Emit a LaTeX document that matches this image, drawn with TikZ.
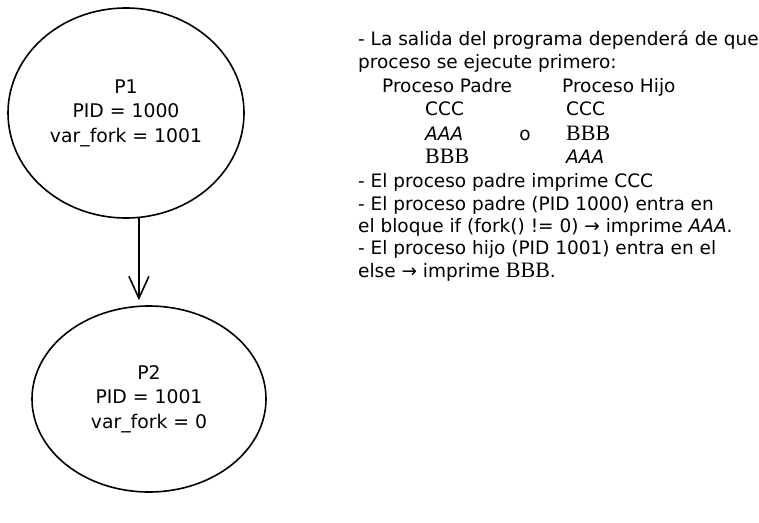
\documentclass[tikz,border=0pt]{standalone}
\usepackage{fontspec}
\setmainfont{DejaVu Sans}
\newfontfamily\serifB{Liberation Serif}
\newcommand{\bbb}{{\serifB\fontsize{22}{23}\selectfont BBB}}
\usetikzlibrary{shapes.geometric,arrows.meta,calc}
\tikzset{
  proc/.style={ellipse, draw=black, line width=1.6pt, align=center,
    font=\fontsize{18.8}{24.5}\selectfont},
  txt/.style={anchor=base west, inner sep=0pt, font=\fontsize{18.5}{23}\selectfont},
  txtc/.style={anchor=base, inner sep=0pt, font=\fontsize{18.5}{23}\selectfont},
  conn/.style={line width=1.6pt, -{Straight Barb[length=22pt,width=20pt,line width=1.6pt]}}
}
\begin{document}
\begin{tikzpicture}[x=1pt,y=-1pt]
\useasboundingbox (0,0) rectangle (759,522);
\node[proc, minimum width=236pt, minimum height=210pt] (P1) at (126,113) {P1\\PID = 1000\\var\_fork = 1001};
\node[proc, minimum width=234pt, minimum height=186pt] (P2) at (149,399) {P2\\PID = 1001\\var\_fork = 0};
\draw[conn, shorten >=5pt] (P1.-83) -- (P1.-83 |- P2.north);
\node[txt] (l1) at (358,45) {- La salida del programa dependerá de que};
\node[txt] (l2) at (358,68) {proceso se ejecute primero:};
\node[txt] (l3a) at (382,92) {Proceso Padre};
\node[txt] (l3b) at (562,92) {Proceso Hijo};
\node[txt] (l4a) at (425,115) {CCC};
\node[txt] (l4b) at (566,115) {CCC};
\node[txt] (l5a) at (425,140) {\itshape AAA};
\node[txtc] (l5o) at (525,140) {o};
\node[txt] (l5b) at (566,140) {\bbb};
\node[txt] (l6a) at (425,163) {\bbb};
\node[txt] (l6b) at (566,163) {\itshape AAA};
\node[txt] (l7) at (358,187) {- El proceso padre imprime CCC};
\node[txt] (l8) at (358,210) {- El proceso padre (PID 1000) entra en};
\node[txt] (l9) at (358,232) {el bloque if (fork() != 0) → imprime \itshape AAA\upshape.};
\node[txt] (l10) at (358,254) {- El proceso hijo (PID 1001) entra en el};
\node[txt] (l11) at (358,277) {else → imprime \bbb.};
\end{tikzpicture}
\end{document}
